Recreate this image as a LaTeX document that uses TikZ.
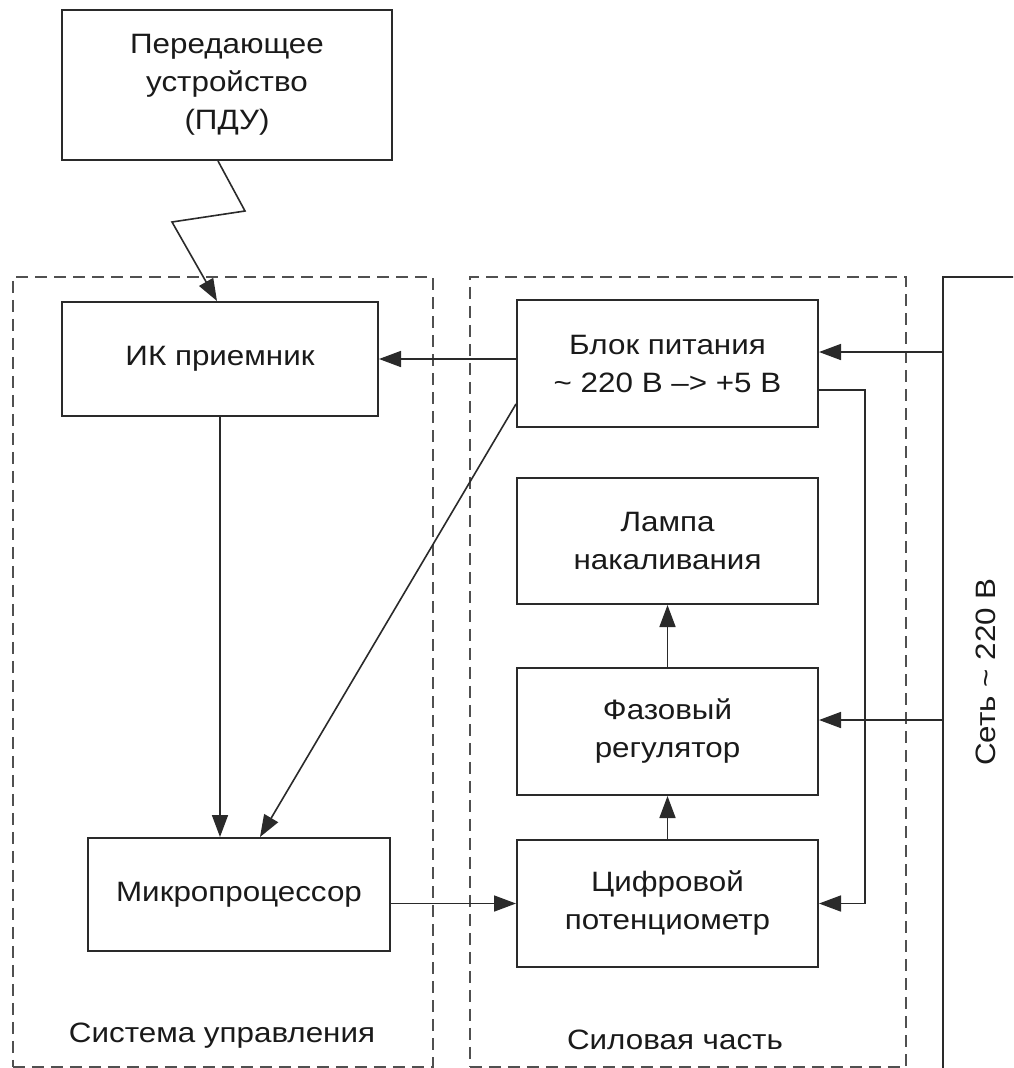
\documentclass[tikz,border=0pt]{standalone}
\usepackage{fontspec}
\setmainfont[FakeStretch=1.12]{Liberation Sans}
\usetikzlibrary{arrows.meta}
\definecolor{ln}{HTML}{2A2A2A}
\definecolor{tx}{HTML}{1A1A1A}
\definecolor{dsh}{HTML}{505050}
\begin{document}
\begin{tikzpicture}[x=1pt,y=-1pt,
  font=\fontsize{28}{38}\selectfont,
  blk/.style={draw=ln, line width=2pt, align=center, inner sep=0pt, text=tx, fill=white},
  grp/.style={draw=dsh, line width=1.8pt, dash pattern=on 12pt off 7pt, inner sep=0pt},
  lbl/.style={text=tx, inner sep=0pt},
  arr/.style={draw=ln, line width=1.6pt, -{Triangle[length=22pt,width=16pt]}}]
\useasboundingbox (0,0) rectangle (1013,1068);
\clip (0,0) rectangle (1013,1068);
\fill[white] (0,0) rectangle (1013,1068);
% groups
\node[grp, minimum width=420, minimum height=790, anchor=north west] (g1) at (12,276) {};
\node[grp, minimum width=436, minimum height=790, anchor=north west] (g2) at (469,276) {};
\node[lbl] (g1l) at (222,1036) {Система управления};
\node[lbl] (g2l) at (675,1040) {Силовая часть};
% mains
\node[blk, minimum width=140, minimum height=840, anchor=north west] (set) at (942,276) {};
\node[lbl, rotate=90] (setl) at (986,672) {Сеть \~{} 220 В};
% blocks
\node[blk, minimum width=330, minimum height=150] (pdu) at (227,85) {Передающее\\устройство\\(ПДУ)};
\node[blk, minimum width=316, minimum height=114] (ik) at (220,359) {ИК приемник};
\node[blk, minimum width=302, minimum height=113] (mp) at (239,894.5) {Микропроцессор};
\node[blk, minimum width=301, minimum height=127] (bp) at (667.5,363.5) {Блок питания\\\~{} 220 В –> +5 В};
\node[blk, minimum width=301, minimum height=126] (lamp) at (667.5,541) {Лампа\\накаливания};
\node[blk, minimum width=301, minimum height=127] (faz) at (667.5,731.5) {Фазовый\\регулятор};
\node[blk, minimum width=301, minimum height=127] (cif) at (667.5,903.5) {Цифровой\\потенциометр};
% coordinates
\coordinate (z0) at (218,0);
\coordinate (z1) at (245,211);
\coordinate (z2) at (172,222);
\coordinate (z3) at (217,0);
\coordinate (c1) at (942,352);
\coordinate (c2) at (942,720);
\coordinate (r1) at (865,390);
% connectors
\draw[arr] (pdu.south -| z0) -- (z1) -- (z2) -- (ik.north -| z3);
\draw[arr] (c1) -- (c1 -| bp.east);
\draw[arr] (c2) -- (c2 -| faz.east);
\draw[arr] (ik.east -| bp.west) -- (ik.east);
\draw[arr] (r1 -| bp.east) -- (r1) |- (cif.east);
\draw[arr] (ik.south) -- (ik.south |- mp.north);
\draw[arr] ([yshift=24pt]bp.south west) -- ([xshift=21pt]mp.north);
\draw[arr] (mp.east |- cif.west) -- (cif.west);
\draw[arr] (faz.north) -- (lamp.south);
\draw[arr] (cif.north) -- (faz.south);
\end{tikzpicture}
\end{document}
